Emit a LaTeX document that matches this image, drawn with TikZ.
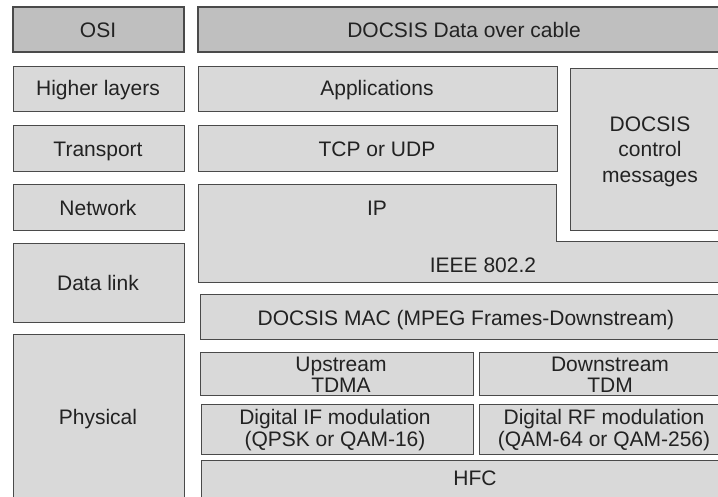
\documentclass[tikz,border=0pt]{standalone}
\usepackage{fontspec}
\setmainfont{Liberation Sans}
\definecolor{boxfill}{HTML}{D9D9D9}
\definecolor{headfill}{HTML}{BFBFBF}
\definecolor{edge}{HTML}{4A4A4A}
\definecolor{ink}{HTML}{222222}
\begin{document}
\begin{tikzpicture}[x=1pt,y=-1pt,
  box/.style={draw=edge,line width=1pt,fill=boxfill},
  head/.style={box,fill=headfill,line width=1.4pt},
  lbl/.style={text=ink,font=\fontsize{21}{21}\selectfont,align=center,inner sep=0pt,anchor=base}]
\useasboundingbox (0,0) rectangle (718,496);
\begin{scope}
\clip (0,0) rectangle (718,496);
% OSI column
\draw[head] (13,7) rectangle (184,52);
\draw[box] (13,66) rectangle (184,111);
\draw[box] (13,125) rectangle (184,171);
\draw[box] (13,184) rectangle (184,230);
\draw[box] (13,243) rectangle (184,322);
\draw[box] (13,334) rectangle (184,520);
% DOCSIS column
\draw[head] (198,7) rectangle (740,52);
\draw[box] (198,66) rectangle (557,111);
\draw[box] (198,125) rectangle (557,171);
\draw[box] (570,68) rectangle (740,230);
\draw[box] (198,184) -- (556,184) -- (556,241) -- (740,241) -- (740,282) -- (198,282) -- cycle;
\draw[box] (200,294) rectangle (740,339);
\draw[box] (200,352) rectangle (473,395);
\draw[box] (479,352) rectangle (740,395);
\draw[box] (201,404) rectangle (473,454);
\draw[box] (479,404) rectangle (740,454);
\draw[box] (201,460) rectangle (740,520);
\end{scope}
% labels
\node[lbl] (osi) at (98,37.5) {OSI};
\node[lbl] (docsis) at (464,37) {DOCSIS Data over cable};
\node[lbl] (higher) at (98,95.5) {Higher layers};
\node[lbl] (apps) at (377,95.5) {Applications};
\node[lbl] (transport) at (98,156) {Transport};
\node[lbl] (tcp) at (377,156) {TCP or UDP};
\node[lbl,font=\fontsize{21}{25.5}\selectfont] (ctrl) at (650,182) {DOCSIS\\control\\messages};
\node[lbl] (network) at (98,215) {Network};
\node[lbl] (ip) at (377,215) {IP};
\node[lbl] (ieee) at (483,272) {IEEE 802.2};
\node[lbl] (datalink) at (98,290) {Data link};
\node[lbl] (physical) at (98,424) {Physical};
\node[lbl] (mac) at (466,325) {DOCSIS MAC (MPEG Frames-Downstream)};
\node[lbl] (up) at (341,392) {Upstream\\TDMA};
\node[lbl] (down) at (610,392) {Downstream\\TDM};
\node[lbl,font=\fontsize{21}{22}\selectfont] (difm) at (335,446) {Digital IF modulation\\(QPSK or QAM-16)};
\node[lbl,font=\fontsize{21}{22}\selectfont] (drfm) at (604,446) {Digital RF modulation\\(QAM-64 or QAM-256)};
\node[lbl] (hfc) at (475,485) {HFC};
\end{tikzpicture}
\end{document}
